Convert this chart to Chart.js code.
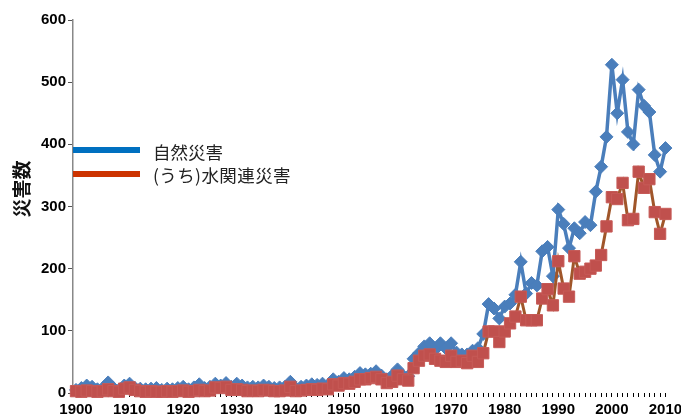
<!DOCTYPE html>
<html>
<head>
<meta charset="utf-8">
<script src="https://cdn.jsdelivr.net/npm/chart.js@4.4.1/dist/chart.umd.min.js"></script>
<style>
  html, body { margin: 0; padding: 0; background: #fff; }
  #wrap { position: relative; width: 681px; height: 419px; }
  #c { position: absolute; left: 0; top: 0; }
  .ytitle {
    position: absolute; left: 20px; top: 189px;
    transform: translate(-50%, -50%) rotate(-90deg);
    font: bold 19px "Noto Sans CJK JP", sans-serif; color: #111; white-space: nowrap;
  }
  .legline { position: absolute; left: 73px; width: 67px; height: 6px; }
  .legtext {
    position: absolute; left: 153px; transform: translateY(-50%);
    font: 17.5px "Noto Sans CJK JP", sans-serif; color: #222; white-space: nowrap;
  }
</style>
</head>
<body>
<div id="wrap">
  <canvas id="c" width="681" height="419"></canvas>
  <div class="ytitle">災害数</div>
  <div class="legline" style="top:147px;background:#0070c0"></div>
  <div class="legline" style="top:171px;background:#cc3300"></div>
  <div class="legtext" style="top:151px">自然災害</div>
  <div class="legtext" style="top:174px;letter-spacing:0.4px">(うち)水関連災害</div>
</div>
<script>
// years 1900..2010
const firstYear = 1900;
const lastYear = 2010;
const years = Array.from({ length: lastYear - firstYear + 1 }, (_, i) => firstYear + i);
const xTickLabels = ['1900', '1910', '1920', '1930', '1940', '1950', '1960', '1970', '1980', '1990', '2000', '2010'];
const yTicks = [0, 100, 200, 300, 400, 500, 600];

// 自然災害
const natural = [
  5, 8, 12, 10, 6, 8, 17, 8, 5, 12,
  15, 8, 7, 6, 7, 8, 5, 7, 6, 8,
  10, 6, 9, 14, 8, 10, 15, 12, 16, 10,
  15, 12, 9, 10, 9, 12, 10, 8, 9, 10,
  18, 8, 10, 12, 14, 13, 15, 12, 22, 18,
  24, 22, 26, 32, 30, 31, 35, 28, 22, 28,
  38, 28, 27, 55, 64, 75, 80, 70, 80, 72,
  80, 65, 62, 62, 68, 72, 95, 143, 136, 120,
  139, 144, 158, 211, 160, 177, 173, 228, 235, 188,
  295, 272, 233, 265, 257, 275, 270, 324, 364, 412,
  528, 450, 504, 420, 400, 488, 462, 452, 383, 356,
  394
];

// (うち)水関連災害
const water = [
  3, 2, 4, 3, 2, 3, 6, 3, 2, 7,
  9, 5, 3, 2, 3, 2, 2, 3, 2, 3,
  4, 2, 3, 5, 3, 4, 9, 8, 10, 5,
  6, 5, 3, 4, 3, 5, 4, 3, 3, 4,
  10, 3, 4, 5, 6, 5, 7, 6, 14, 12,
  16, 15, 18, 22, 22, 24, 26, 22, 16, 18,
  28, 22, 20, 40, 52, 60, 62, 55, 52, 50,
  60, 50, 52, 48, 60, 50, 64, 99, 99, 82,
  99, 112, 123, 155, 117, 117, 117, 152, 167, 141,
  212, 168, 155, 220, 192, 195, 200, 205, 222, 268,
  315, 312, 338, 278, 280, 356, 330, 344, 291, 256,
  288
];

const toPoints = arr => arr.map((v, i) => ({ x: years[i], y: v }));

new Chart(document.getElementById('c'), {
  type: 'line',
  data: {
    datasets: [
      {
        label: '自然災害',
        data: toPoints(natural),
        borderColor: '#4a7ebb',
        backgroundColor: '#4a7ebb',
        borderWidth: 3.5,
        pointStyle: 'rectRot',
        pointRadius: 6.5,
        pointBorderWidth: 1,
        pointBackgroundColor: '#4a7ebb',
        pointBorderColor: '#4a7ebb',
        tension: 0,
        clip: false,
        order: 1
      },
      {
        label: '(うち)水関連災害',
        data: toPoints(water),
        borderColor: '#a0562a',
        backgroundColor: '#c0504d',
        borderWidth: 3,
        pointStyle: 'rect',
        pointRadius: 8,
        pointBorderWidth: 1,
        pointBackgroundColor: '#c0504d',
        pointBorderColor: '#c65a57',
        tension: 0,
        clip: false,
        order: 0
      }
    ]
  },
  options: {
    responsive: false,
    animation: false,
    layout: { autoPadding: false, padding: { top: 20, right: 0, left: 0, bottom: 0 } },
    plugins: { legend: { display: false }, tooltip: { enabled: false } },
    scales: {
      x: {
        type: 'linear',
        min: 1899.44,
        max: 2012.9,
        afterBuildTicks: s => { s.ticks = years.map(y => ({ value: y })); },
        afterFit: s => { s.height = 26; s.paddingLeft = 0; s.paddingRight = 0; },
        border: { display: false },
        grid: { drawOnChartArea: false, drawTicks: true, tickLength: 4, color: '#000', lineWidth: 1 },
        ticks: {
          autoSkip: false,
          maxRotation: 0,
          padding: 4,
          color: '#000',
          font: { family: '"Liberation Sans", Arial, sans-serif', size: 15, weight: 'bold' },
          callback: v => xTickLabels.includes(String(v)) ? String(v) : ''
        }
      },
      y: {
        min: 0,
        max: 600,
        afterBuildTicks: s => { s.ticks = yTicks.map(v => ({ value: v })); },
        afterFit: s => { s.width = 73; s.paddingTop = 0; s.paddingBottom = 0; },
        border: { display: true, color: '#888', width: 1.5 },
        grid: { drawOnChartArea: false, drawTicks: true, tickLength: 5, color: '#555' },
        ticks: {
          padding: 2,
          color: '#000',
          font: { family: '"Liberation Sans", Arial, sans-serif', size: 15, weight: 'bold' }
        }
      }
    }
  }
});
</script>
</body>
</html>
